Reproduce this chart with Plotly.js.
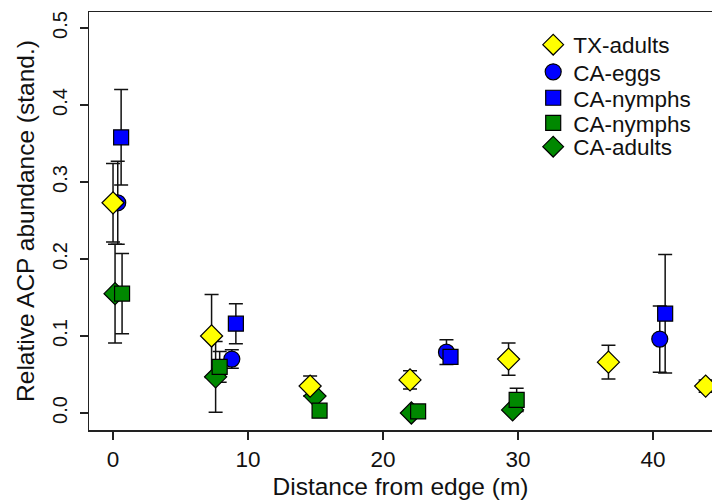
<!DOCTYPE html>
<html>
<head>
<meta charset="utf-8">
<script src="https://cdn.plot.ly/plotly-3.0.1.min.js"></script>
<style>html,body{margin:0;padding:0;background:#fff;}#chart{width:712px;height:500px;}</style>
</head>
<body>
<div id="chart"></div>
<script>
// Series data
var txAdultsX   = [0.0, 7.3, 14.6, 22.0, 29.3, 36.7, 43.9];
var txAdultsY   = [0.273, 0.100, 0.035, 0.043, 0.070, 0.066, 0.035];
var txAdultsErr = [0.051, 0.054, 0.013, 0.012, 0.021, 0.022, 0.008];

var caEggsX   = [0.35, 8.8, 24.7, 40.5];
var caEggsY   = [0.273, 0.070, 0.079, 0.096];
var caEggsErr = [0.054, 0.012, 0.016, 0.043];

var caNymphsBlueX   = [0.6, 9.1, 25.0, 40.9];
var caNymphsBlueY   = [0.358, 0.116, 0.073, 0.129];
var caNymphsBlueErr = [0.062, 0.026, 0.009, 0.077];

var caNymphsGreenX   = [0.67, 7.9, 15.3, 22.6, 29.9];
var caNymphsGreenY   = [0.155, 0.060, 0.003, 0.002, 0.017];
var caNymphsGreenErr = [0.052, 0.020, 0.004, 0.003, 0.015];

var caAdultsX   = [0.15, 7.6, 14.96, 22.1, 29.6];
var caAdultsY   = [0.155, 0.047, 0.022, 0.000, 0.004];
var caAdultsErr = [0.064, 0.046, 0.005, 0.003, 0.004];

var xTicks = [0, 10, 20, 30, 40];
var yTicks = [0, 0.1, 0.2, 0.3, 0.4, 0.5];
var yTickText = ['0.0', '0.1', '0.2', '0.3', '0.4', '0.5'];

var FONT = 'Liberation Sans, Arial, sans-serif';
var series = [
  {name: 'TX-adults', x: txAdultsX, y: txAdultsY, e: txAdultsErr, symbol: 'diamond', color: '#FFFF00', size: 17},
  {name: 'CA-eggs', x: caEggsX, y: caEggsY, e: caEggsErr, symbol: 'circle', color: '#0000FF', size: 16},
  {name: 'CA-nymphs', x: caNymphsBlueX, y: caNymphsBlueY, e: caNymphsBlueErr, symbol: 'square', color: '#0000FF', size: 15},
  {name: 'CA-nymphs', x: caNymphsGreenX, y: caNymphsGreenY, e: caNymphsGreenErr, symbol: 'square', color: '#008800', size: 15},
  {name: 'CA-adults', x: caAdultsX, y: caAdultsY, e: caAdultsErr, symbol: 'diamond', color: '#008800', size: 17}
];
var legendIds = ['legend', 'legend2', 'legend3', 'legend4', 'legend5'];
var legendRowY = [0.921, 0.856, 0.794, 0.734, 0.677];

var traces = [];
// error bars first (beneath all markers)
series.forEach(function(s){
  traces.push({
    type: 'scatter', mode: 'markers', x: s.x, y: s.y, showlegend: false, hoverinfo: 'skip',
    marker: {size: 2, opacity: 0},
    error_y: {type: 'data', array: s.e, visible: true, color: '#111', thickness: 1.5, width: 7}
  });
});
// markers: drawing order bottom -> top
var drawOrder = [4, 1, 3, 2, 0];
drawOrder.forEach(function(i){
  var s = series[i];
  traces.push({
    type: 'scatter', mode: 'markers', x: s.x, y: s.y, name: s.name, legend: legendIds[i],
    marker: {symbol: s.symbol, color: s.color, size: s.size, line: {color: '#000', width: 1.2}}
  });
});

var layout = {
  width: 712, height: 500,
  margin: {l: 89, r: 0, t: 12, b: 70},
  paper_bgcolor: '#fff', plot_bgcolor: '#fff',
  font: {family: FONT, color: '#111'},
  showlegend: true,
  xaxis: {
    range: [-1.78, 44.37], tickvals: xTicks, ticktext: xTicks.map(String),
    ticks: 'outside', ticklen: 8, tickwidth: 1.5, tickcolor: '#222',
    showline: true, linewidth: 1.5, linecolor: '#222', mirror: true,
    showgrid: false, zeroline: false,
    tickfont: {family: FONT, size: 22.5, color: '#111'},
    title: {text: 'Distance from edge (m)', font: {family: FONT, size: 24.5, color: '#111'}, standoff: 7}
  },
  yaxis: {
    range: [-0.0221, 0.5208], tickvals: yTicks, ticktext: yTickText, tickangle: -90,
    ticks: 'outside', ticklen: 8, tickwidth: 1.5, tickcolor: '#222',
    showline: true, linewidth: 1.5, linecolor: '#222', mirror: false,
    showgrid: false, zeroline: false, ticklabelstandoff: 5,
    tickfont: {family: FONT, size: 20, color: '#111'},
    title: {text: 'Relative ACP abundance (stand.)', font: {family: FONT, size: 24.5, color: '#111'}, standoff: 7}
  }
};
legendIds.forEach(function(id, k){
  layout[id] = {x: 0.713, y: legendRowY[k], xanchor: 'left', yanchor: 'middle', bgcolor: 'rgba(0,0,0,0)',
                font: {family: FONT, size: 22.5, color: '#111'}, itemsizing: 'trace'};
});

Plotly.newPlot('chart', traces, layout, {displayModeBar: false, staticPlot: true});
</script>
</body>
</html>
